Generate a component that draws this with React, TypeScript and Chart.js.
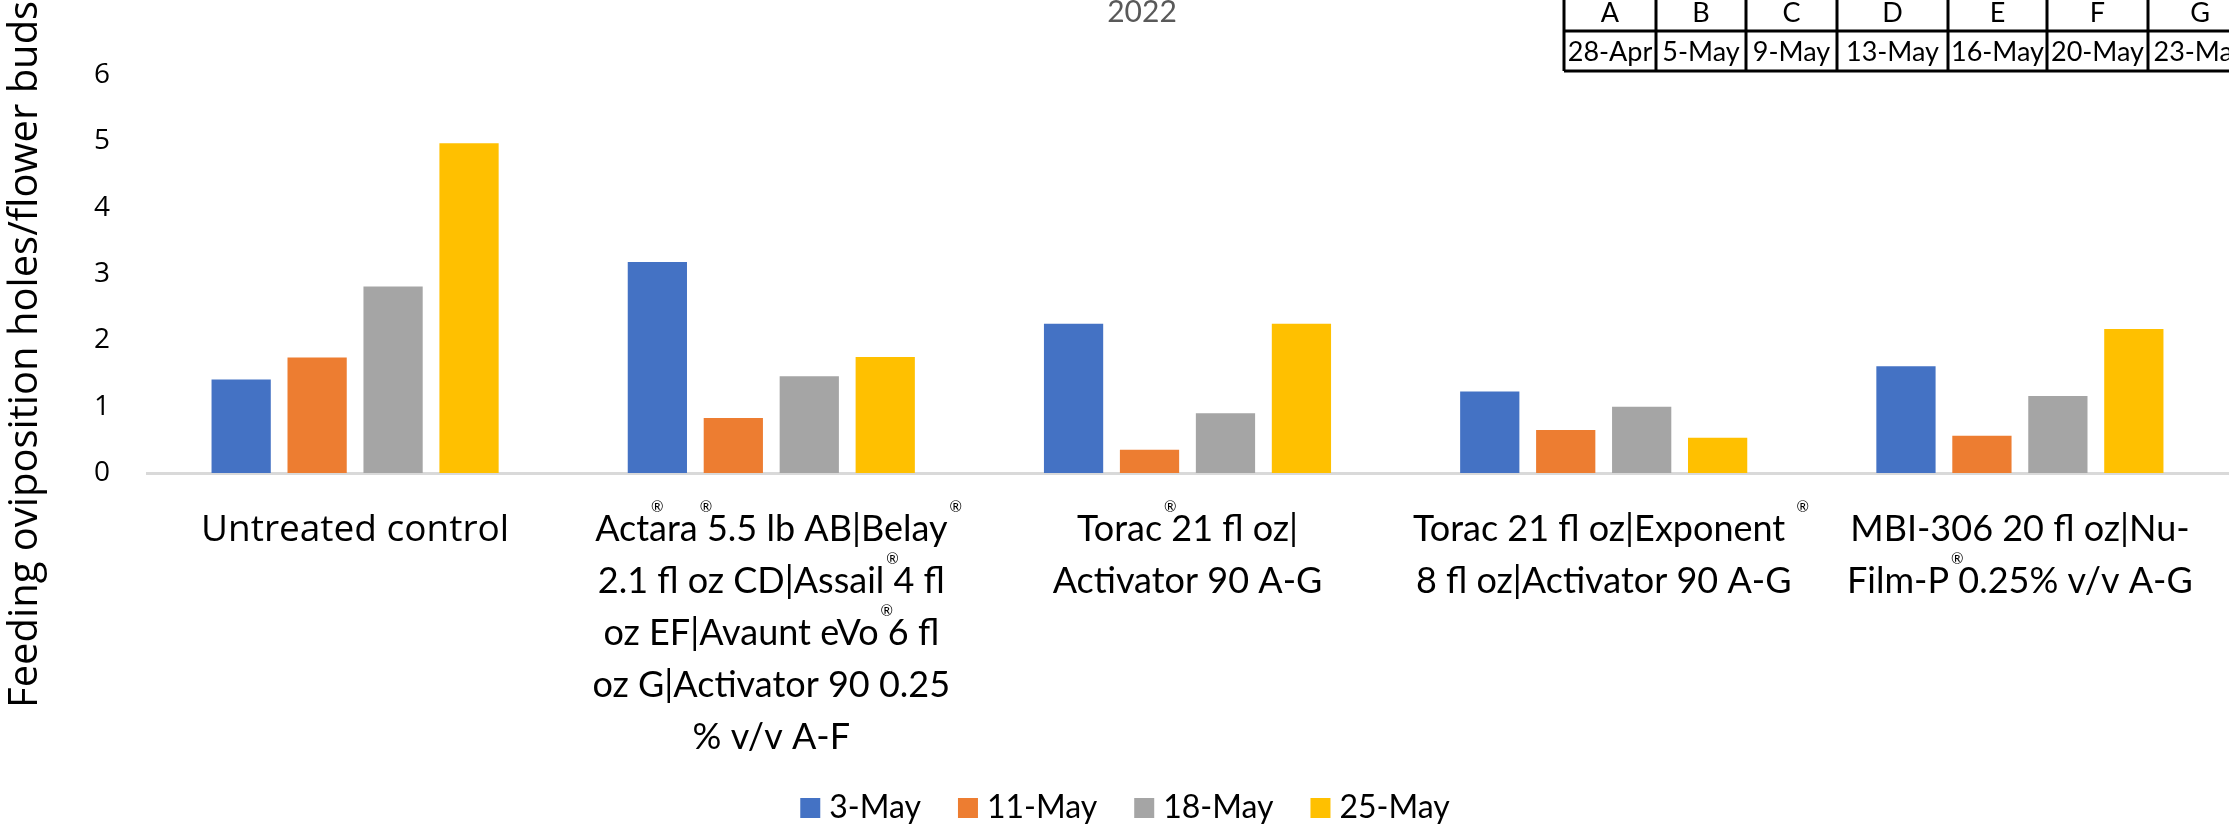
import React, { useEffect, useRef } from "react";
import { Chart, registerables } from "chart.js";

Chart.register(...registerables);

// ---------- data ----------
const chartTitle = "2022";
const yAxisTitle = "Feeding oviposition holes/flower buds";

// "®" marks a raised registered sign drawn without advance width
const treatmentLabels: string[][] = [
  ["Untreated control"],
  [
    "Act®ara® 5.5 lb AB|Belay®",
    "2.1 fl oz CD|Assail® 4 fl",
    "oz EF|Avaunt eVo® 6 fl",
    "oz G|Activator 90 0.25",
    "% v/v A-F",
  ],
  ["Torac® 21 fl oz|", "Activator 90 A-G"],
  ["Torac 21 fl oz|Exponent ®", "8 fl oz|Activator 90 A-G"],
  ["MBI-306 20 fl oz|Nu-", "Film-P® 0.25% v/v A-G"],
];

const seriesNames = ["3-May", "11-May", "18-May", "25-May"];
const may3 = [1.41, 3.18, 2.25, 1.23, 1.61];
const may11 = [1.74, 0.83, 0.35, 0.65, 0.56];
const may18 = [2.81, 1.46, 0.9, 1.0, 1.16];
const may25 = [4.97, 1.75, 2.25, 0.53, 2.17];
const seriesValues = [may3, may11, may18, may25];

const yTickLabels = ["0", "1", "2", "3", "4", "5", "6"];

const scheduleLetters = ["A", "B", "C", "D", "E", "F", "G"];
const scheduleDates = ["28-Apr", "5-May", "9-May", "13-May", "16-May", "20-May", "23-May"];

// ---------- styles / layout ----------
const COLORS = ["#4472C4", "#ED7D31", "#A5A5A5", "#FFC000"];
const W = 2229;
const H = 825;
const NARROW = "Lato, sans-serif";
const WIDE = '"Open Sans", sans-serif';
const PLOT_TOP = 75;
const PLOT_BOTTOM = 473;
const PLOT_LEFT = 147;
const TABLE_EDGES = [1564, 1656, 1746, 1837, 1948, 2047, 2148, 2252];
const TABLE_ROWS = [-10, 31, 71];
const LEGEND_CENTER = 1125;

function drawRich(
  ctx: CanvasRenderingContext2D,
  line: string,
  cx: number,
  baseline: number,
  size: number,
  family: string
) {
  const parts = line.split("®");
  ctx.save();
  ctx.font = `${size}px ${family}`;
  const widths = parts.map((p) => ctx.measureText(p).width);
  const total = widths.reduce((a, b) => a + b, 0);
  let x = cx - total / 2;
  ctx.textAlign = "left";
  ctx.textBaseline = "alphabetic";
  ctx.fillStyle = "#000";
  parts.forEach((p, i) => {
    ctx.font = `${size}px ${family}`;
    ctx.fillText(p, x, baseline);
    x += widths[i];
    if (i < parts.length - 1) {
      ctx.font = `${Math.round(size * 0.42)}px ${family}`;
      ctx.fillText("®", x + 2, baseline - size * 0.8);
    }
  });
  ctx.restore();
}

export default function App() {
  const ref = useRef<HTMLCanvasElement>(null);

  useEffect(() => {
    const canvas = ref.current;
    if (!canvas) return;

    const overlay = {
      id: "overlay",
      afterDraw(chart: any) {
        const ctx: CanvasRenderingContext2D = chart.ctx;
        const xs = chart.scales.x;
        const area = chart.chartArea;

        // title
        ctx.save();
        ctx.fillStyle = "#595959";
        ctx.font = `30px ${NARROW}`;
        ctx.textAlign = "center";
        ctx.textBaseline = "alphabetic";
        ctx.fillText(chartTitle, 1142, 22);
        ctx.restore();

        // y axis title
        ctx.save();
        ctx.translate(26, 708);
        ctx.rotate(-Math.PI / 2);
        ctx.font = `40px ${WIDE}`;
        ctx.fillStyle = "#000";
        ctx.textAlign = "left";
        ctx.textBaseline = "middle";
        ctx.fillText(yAxisTitle, 0, 0);
        ctx.restore();

        // category labels
        treatmentLabels.forEach((lines, i) => {
          const cx = xs.getPixelForValue(i);
          const wide = i === 0;
          lines.forEach((ln, k) => {
            drawRich(
              ctx,
              ln,
              cx,
              area.bottom + 68 + k * 52,
              wide ? 37 : 36,
              wide ? WIDE : NARROW
            );
          });
        });

        // legend
        ctx.save();
        ctx.font = `32px ${NARROW}`;
        const box = 20;
        const gap = 9;
        const spacing = 37;
        const widths = seriesNames.map((n) => ctx.measureText(n).width);
        const total =
          widths.reduce((a, b) => a + b, 0) +
          seriesNames.length * (box + gap) +
          (seriesNames.length - 1) * spacing;
        let lx = LEGEND_CENTER - total / 2;
        seriesNames.forEach((n, i) => {
          ctx.fillStyle = COLORS[i];
          ctx.fillRect(lx, 798, box, box);
          ctx.fillStyle = "#000";
          ctx.textBaseline = "alphabetic";
          ctx.textAlign = "left";
          ctx.fillText(n, lx + box + gap, 818);
          lx += box + gap + widths[i] + spacing;
        });
        ctx.restore();

        // application schedule table
        ctx.save();
        ctx.strokeStyle = "#000";
        ctx.lineWidth = 3;
        ctx.beginPath();
        TABLE_ROWS.forEach((y) => {
          ctx.moveTo(TABLE_EDGES[0], y);
          ctx.lineTo(W + 5, y);
        });
        TABLE_EDGES.forEach((x) => {
          ctx.moveTo(x, TABLE_ROWS[0]);
          ctx.lineTo(x, TABLE_ROWS[2]);
        });
        ctx.stroke();
        ctx.fillStyle = "#000";
        ctx.font = `27px ${NARROW}`;
        ctx.textAlign = "center";
        ctx.textBaseline = "middle";
        scheduleLetters.forEach((l, i) => {
          const c = (TABLE_EDGES[i] + TABLE_EDGES[i + 1]) / 2;
          ctx.fillText(l, c, 13);
          ctx.fillText(scheduleDates[i], c, 52);
        });
        ctx.restore();
      },
    };

    const chart = new Chart(canvas, {
      type: "bar",
      data: {
        labels: treatmentLabels.map((t) => t.join(" ").replace(/®/g, "")),
        datasets: seriesNames.map((name, i) => ({
          label: name,
          data: seriesValues[i],
          backgroundColor: COLORS[i],
          borderWidth: 0,
          categoryPercentage: 0.73,
          barPercentage: 0.78,
        })),
      },
      options: {
        responsive: false,
        animation: false,
        devicePixelRatio: 1,
        layout: { padding: { top: PLOT_TOP, right: 1, left: 0, bottom: 0 } },
        plugins: {
          legend: { display: false },
          title: { display: false },
          tooltip: { enabled: false },
        },
        scales: {
          x: {
            grid: { display: false },
            border: { display: true, color: "#D9D9D9", width: 3 },
            ticks: { display: false },
            afterFit: (s: any) => {
              s.height = H - PLOT_BOTTOM;
            },
          },
          y: {
            min: 0,
            max: 6,
            ticks: {
              stepSize: 1,
              color: "#000",
              padding: 37,
              font: { family: WIDE, size: 28 },
              callback: (_v: any, i: number) => yTickLabels[i],
            },
            grid: { display: false, drawTicks: false },
            border: { display: false },
            afterFit: (s: any) => {
              s.width = PLOT_LEFT;
            },
          },
        },
      },
      plugins: [overlay],
    } as any);

    if ((document as any).fonts && (document as any).fonts.ready) {
      (document as any).fonts.ready.then(() => chart.update());
    }

    return () => chart.destroy();
  }, []);

  return (
    <div
      style={{
        position: "fixed",
        left: 0,
        top: 0,
        width: W,
        height: H,
        background: "#fff",
      }}
    >
      <canvas ref={ref} width={W} height={H} style={{ display: "block", width: W, height: H }} />
    </div>
  );
}
